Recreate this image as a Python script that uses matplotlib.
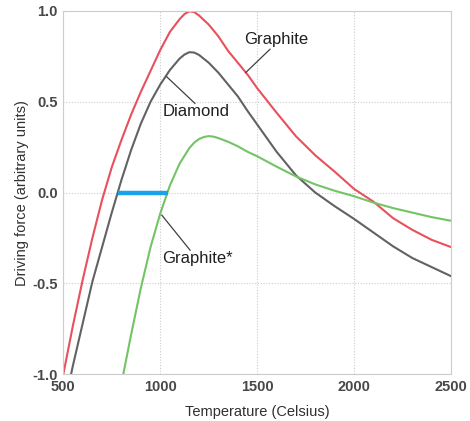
import matplotlib
matplotlib.use("Agg")
import matplotlib.pyplot as plt

plt.rcParams["font.family"] = ["Liberation Sans", "DejaVu Sans"]

# driving force vs temperature, read at fixed temperatures
graphite_t = [500, 550, 600, 650, 700, 750, 800, 850, 900, 950, 1000, 1050, 1100,
              1125, 1150, 1175, 1200, 1250, 1300, 1350, 1400, 1450, 1500, 1600,
              1700, 1800, 1900, 2000, 2100, 2200, 2300, 2400, 2500]
graphite_f = [-1.00, -0.73, -0.48, -0.25, -0.04, 0.14, 0.29, 0.43, 0.555, 0.67, 0.785,
              0.885, 0.955, 0.983, 0.998, 0.994, 0.975, 0.925, 0.86, 0.78, 0.715,
              0.65, 0.575, 0.44, 0.31, 0.205, 0.115, 0.02, -0.05, -0.14, -0.205,
              -0.26, -0.30]

diamond_t = [540, 550, 600, 650, 700, 750, 800, 850, 900, 950, 1000, 1050, 1100,
             1125, 1150, 1175, 1200, 1250, 1300, 1350, 1400, 1450, 1500, 1600,
             1700, 1800, 1900, 2000, 2100, 2200, 2300, 2400, 2500]
diamond_f = [-1.00, -0.95, -0.72, -0.49, -0.30, -0.11, 0.07, 0.235, 0.38, 0.50,
             0.595, 0.675, 0.738, 0.760, 0.773, 0.771, 0.758, 0.715, 0.66, 0.595,
             0.53, 0.45, 0.375, 0.225, 0.095, 0.0, -0.075, -0.145, -0.22, -0.295,
             -0.36, -0.41, -0.46]

graphite2_t = [800, 850, 900, 950, 1000, 1050, 1100, 1150, 1175, 1200, 1225, 1250,
               1275, 1300, 1350, 1400, 1450, 1500, 1600, 1700, 1800, 1900, 2000,
               2100, 2200, 2300, 2400, 2500]
graphite2_f = [-1.05, -0.78, -0.525, -0.30, -0.115, 0.04, 0.16, 0.245, 0.275, 0.295,
               0.306, 0.311, 0.308, 0.30, 0.28, 0.255, 0.225, 0.20, 0.143, 0.089,
               0.045, 0.01, -0.02, -0.055, -0.085, -0.11, -0.135, -0.155]

# window between diamond and graphite* crossing zero
window_t = [782, 1040]
window_f = [0.0, 0.0]

fig = plt.figure(figsize=(4.7, 4.21), dpi=100)
ax = fig.add_axes([0.1347, 0.111, 0.825, 0.863])

ax.plot(graphite_t, graphite_f, color="#e8505c", lw=1.5)
ax.plot(diamond_t, diamond_f, color="#626262", lw=1.5)
ax.plot(graphite2_t, graphite2_f, color="#72c464", lw=1.5)
ax.plot(window_t, window_f, color="#1aa3e8", lw=3.2, solid_capstyle="butt")

ax.set_xlim(500, 2500)
ax.set_ylim(-1, 1)
ax.set_xticks([500, 1000, 1500, 2000, 2500])
ax.set_yticks([-1.0, -0.5, 0.0, 0.5, 1.0])
ax.set_yticklabels(["-1.0", "-0.5", "0.0", "0.5", "1.0"])
ax.grid(True, color="#cccccc", linestyle=(0, (1, 1.5)), lw=0.8)
for s in ax.spines.values():
    s.set_color("#cccccc")
    s.set_linewidth(0.8)
ax.tick_params(length=0, pad=4, labelsize=10.5, labelcolor="#484848")
for lab in ax.get_xticklabels() + ax.get_yticklabels():
    lab.set_fontweight("bold")

ax.set_xlabel("Temperature (Celsius)", fontsize=10.5, color="#303030", labelpad=8)
ax.set_ylabel("Driving force (arbitrary units)", fontsize=10.5, color="#303030", labelpad=2)

# leader lines from each curve to its label
leaders = {
    "Graphite": ((1441, 1566), (0.661, 0.789), (1600, 0.80), "bottom"),
    "Diamond": ((1033, 1179), (0.638, 0.491), (1185, 0.49), "top"),
    "Graphite*": ((1008, 1154), (-0.124, -0.317), (1192, -0.32), "top"),
}
for name, (lx, ly, pos, va) in leaders.items():
    ax.plot(lx, ly, color="#404040", lw=0.9)
    ax.text(pos[0], pos[1], name, fontsize=12, color="#202020", ha="center", va=va)

fig.savefig("out.png", dpi=100)
